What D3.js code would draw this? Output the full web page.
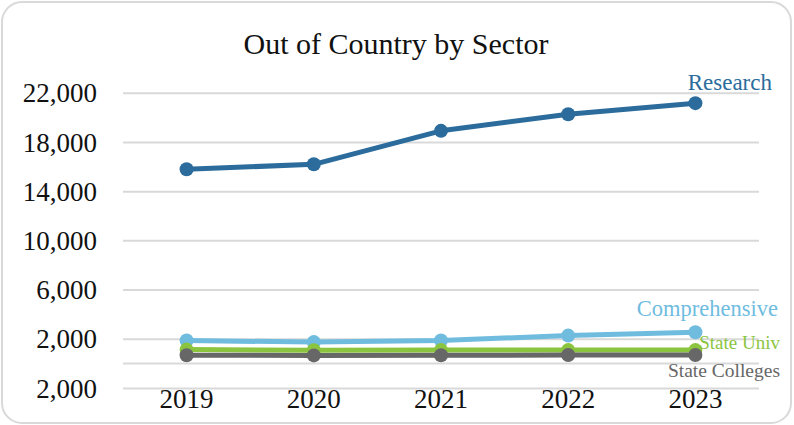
<!DOCTYPE html>
<html>
<head>
<meta charset="utf-8">
<script src="https://cdn.jsdelivr.net/npm/d3@7"></script>
<style>
  html, body { margin: 0; padding: 0; background: #fff; }
  svg { display: block; }
  text { font-family: "Liberation Serif", "DejaVu Serif", serif; }
</style>
</head>
<body>
<svg id="chart" width="794" height="425"></svg>
<script>
const years = ["2019", "2020", "2021", "2022", "2023"];
const research = [15780, 16180, 18900, 20250, 21150];
const comprehensive = [1860, 1730, 1860, 2260, 2530];
const stateUniv = [1120, 1070, 1080, 1080, 1080];
const stateColleges = [660, 650, 660, 680, 680];
const yTicks = [-2000, 2000, 6000, 10000, 14000, 18000, 22000];
const seriesNames = ["Research", "Comprehensive", "State Univ", "State Colleges"];
const seriesColors = ["#2B6C9C", "#6FBCDF", "#8BC53F", "#676767"];
const chartTitle = "Out of Country by Sector";

const series = [research, comprehensive, stateUniv, stateColleges].map((v, i) => ({
  name: seriesNames[i], color: seriesColors[i], values: v
}));

const svg = d3.select("#chart");
const W = 794, H = 425;

// frame
svg.append("rect")
  .attr("x", 2).attr("y", 2).attr("width", W - 5).attr("height", H - 4)
  .attr("rx", 20).attr("ry", 20)
  .attr("fill", "#fff").attr("stroke", "#d9d9d9").attr("stroke-width", 2);

const x = d3.scalePoint().domain(years).range([123, 759]).padding(0.5);
const y = d3.scaleLinear().domain([-2000, 22000]).range([388, 92.7]);

// gridlines + y labels
const yAxis = d3.axisLeft(y).tickValues(yTicks).tickSize(-(759 - 123)).tickPadding(26)
  .tickFormat(d => d3.format(",")(Math.abs(d)));
const gy = svg.append("g").attr("transform", "translate(123,0)").call(yAxis);
gy.select(".domain").remove();
gy.selectAll(".tick line").attr("stroke", "#d9d9d9").attr("stroke-width", 2);
gy.selectAll(".tick text")
  .attr("font-size", 27).attr("fill", "#111")
  .attr("font-family", "Liberation Serif, serif")
  .attr("dy", "0.34em");

// category axis line at zero
svg.append("line")
  .attr("x1", 123).attr("x2", 759).attr("y1", y(0)).attr("y2", y(0))
  .attr("stroke", "#d9d9d9").attr("stroke-width", 2);

// x labels at bottom
svg.append("g").selectAll("text").data(years).join("text")
  .attr("x", d => x(d)).attr("y", 408)
  .attr("text-anchor", "middle")
  .attr("font-size", 27).attr("fill", "#111")
  .text(d => d);

// lines
const line = d3.line().x((d, i) => x(years[i])).y(d => y(d));
series.forEach(s => {
  const g = svg.append("g");
  g.append("path").datum(s.values)
    .attr("d", line).attr("fill", "none")
    .attr("stroke", s.color).attr("stroke-width", 5)
    .attr("stroke-linejoin", "round");
  g.selectAll("circle").data(s.values).join("circle")
    .attr("cx", (d, i) => x(years[i])).attr("cy", d => y(d))
    .attr("r", 7).attr("fill", s.color);
});

// series labels
const labelPos = [
  { x: 772, y: 90, size: 23 },
  { x: 778, y: 316, size: 22.5 },
  { x: 780, y: 349, size: 19 },
  { x: 780, y: 377, size: 19.5 }
];
series.forEach((s, i) => {
  svg.append("text")
    .attr("x", labelPos[i].x).attr("y", labelPos[i].y)
    .attr("text-anchor", "end")
    .attr("font-size", labelPos[i].size)
    .attr("fill", s.color)
    .text(s.name);
});

// title
svg.append("text")
  .attr("x", 396).attr("y", 54)
  .attr("text-anchor", "middle")
  .attr("font-size", 30).attr("fill", "#111")
  .text(chartTitle);
</script>
</body>
</html>
